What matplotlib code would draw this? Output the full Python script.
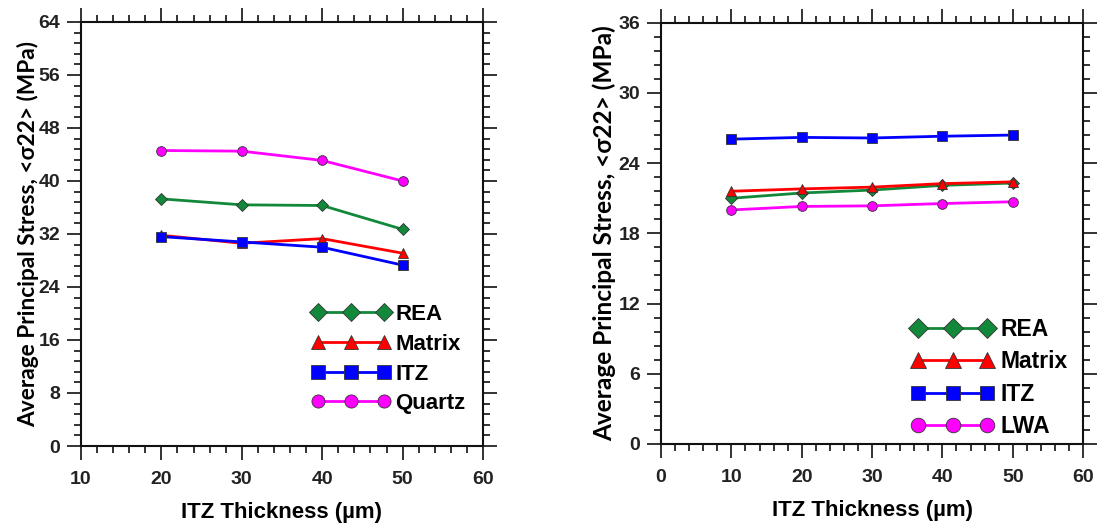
import numpy as np
import matplotlib.pyplot as plt
from matplotlib.ticker import MultipleLocator

plt.rcParams['font.family'] = ['Liberation Sans', 'DejaVu Sans']
plt.rcParams['font.weight'] = 'bold'

# ITZ thickness (um) and average principal stress <s22> (MPa)
thick_a = [20, 30, 40, 50]
rea_a = [37.3, 36.4, 36.3, 32.7]
matrix_a = [31.8, 30.6, 31.3, 29.1]
itz_a = [31.6, 30.8, 30.0, 27.3]
quartz_a = [44.6, 44.5, 43.1, 40.0]

thick_b = [10, 20, 30, 40, 50]
rea_b = [21.0, 21.45, 21.7, 22.1, 22.3]
matrix_b = [21.6, 21.8, 21.95, 22.25, 22.4]
itz_b = [26.05, 26.2, 26.15, 26.3, 26.4]
lwa_b = [20.0, 20.3, 20.35, 20.55, 20.7]

GREEN = '#12893a'
RED = '#ff0000'
BLUE = '#0000ff'
MAGENTA = '#ff00ff'

xlabel = 'ITZ Thickness (\u00b5m)'
ylabel = 'Average Principal Stress, <\u03c322> (MPa)'


def style_axes(ax, xlim, xmajor, ylim, ymajor, yminor, ylab_x, ylab_size):
    ax.set_xlim(*xlim)
    ax.set_ylim(*ylim)
    ax.xaxis.set_major_locator(MultipleLocator(xmajor))
    ax.xaxis.set_minor_locator(MultipleLocator(2))
    ax.yaxis.set_major_locator(MultipleLocator(ymajor))
    ax.yaxis.set_minor_locator(MultipleLocator(yminor))
    for s in ax.spines.values():
        s.set_linewidth(1.5)
        s.set_color('#111111')
    ax.tick_params(which='both', direction='out', top=True, right=True,
                   width=1.2, color='#111111', labelsize=14, labelcolor='#222222')
    ax.tick_params(which='major', length=10)
    ax.tick_params(which='minor', length=5)
    ax.tick_params(axis='x', pad=8)
    ax.tick_params(axis='y', pad=5)
    ax.set_xlabel(xlabel, fontsize=16, fontweight='bold', labelpad=10)
    ax.set_ylabel(ylabel, fontsize=ylab_size, fontweight='bold',
                  family=['Lato', 'DejaVu Sans'])
    ax.yaxis.set_label_coords(ylab_x, 0.5)


def draw_series(ax, x, y, marker, color, label, ms):
    ax.plot(x, y, marker=marker, color=color, lw=2.0, ms=ms,
            markerfacecolor=color, markeredgecolor='#333333', mew=0.6,
            label=label)


fig = plt.figure(figsize=(10.97, 5.27), dpi=100)

ax1 = fig.add_axes([0.0738, 0.1537, 0.3665, 0.8046])
draw_series(ax1, thick_a, rea_a, 'D', GREEN, 'REA', 6.5)
draw_series(ax1, thick_a, matrix_a, '^', RED, 'Matrix', 7.5)
draw_series(ax1, thick_a, itz_a, 's', BLUE, 'ITZ', 7)
draw_series(ax1, thick_a, quartz_a, 'o', MAGENTA, 'Quartz', 7)
style_axes(ax1, (10, 60), 10, (0, 64), 8, 1.6, -0.1045, 16.3)
ax1.legend(loc='lower left', bbox_to_anchor=(0.573, 0.075), frameon=False,
           numpoints=3, markerscale=1.35, handlelength=3.58, handletextpad=0.2,
           labelspacing=0.39, borderpad=0, borderaxespad=0,
           prop={'size': 16, 'weight': 'bold'})

ax2 = fig.add_axes([0.6026, 0.1575, 0.3847, 0.7994])
draw_series(ax2, thick_b, rea_b, 'D', GREEN, 'REA', 6.5)
draw_series(ax2, thick_b, matrix_b, '^', RED, 'Matrix', 7.5)
draw_series(ax2, thick_b, itz_b, 's', BLUE, 'ITZ', 7)
draw_series(ax2, thick_b, lwa_b, 'o', MAGENTA, 'LWA', 7)
style_axes(ax2, (0, 60), 10, (0, 36), 6, 1.2, -0.107, 17.6)
ax2.legend(loc='lower left', bbox_to_anchor=(0.593, 0.014), frameon=False,
           numpoints=3, markerscale=1.5, handlelength=3.61, handletextpad=0.27,
           labelspacing=0.41, borderpad=0, borderaxespad=0,
           prop={'size': 16.5, 'weight': 'bold'})

fig.savefig('out.png', dpi=100)
